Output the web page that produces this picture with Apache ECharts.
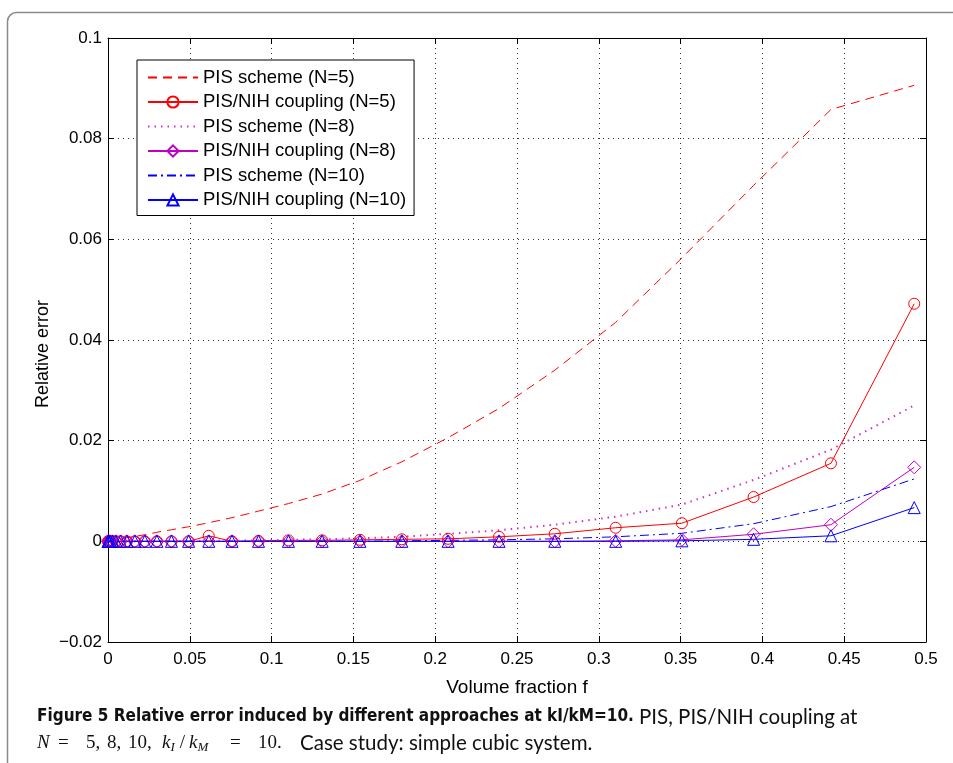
<!DOCTYPE html>
<html>
<head>
<meta charset="utf-8">
<script src="https://cdn.jsdelivr.net/npm/echarts@6/dist/echarts.min.js"></script>
<style>
html,body{margin:0;padding:0;background:#fff;}
#chart{width:953px;height:763px;}
</style>
</head>
<body>
<div id="chart"></div>
<script>
// ---- data ----
const fVals = [0.00002, 0.00018, 0.00061, 0.00144, 0.0028, 0.00485, 0.0077, 0.0115, 0.0164, 0.0225,
  0.0299, 0.0388, 0.0493, 0.0616, 0.0758, 0.0920, 0.1103, 0.1309, 0.1540, 0.1796,
  0.2079, 0.2390, 0.2731, 0.3103, 0.3508, 0.3946, 0.4419, 0.4928];
const pisN5 = [0, 0, 0, 0.0001, 0.0002, 0.0003, 0.0005, 0.0007, 0.0010, 0.0013,
  0.0018, 0.0023, 0.0029, 0.0037, 0.0047, 0.0060, 0.0075, 0.0094, 0.0121, 0.0158,
  0.0206, 0.0264, 0.0340, 0.0435, 0.0563, 0.0707, 0.0858, 0.0906];
const nihN5 = [0, 0, 0, 0, 0, 0, 0, 0, 0, 0,
  0, 0, 0, 0.0011, 0.0000, 0.0001, 0.0002, 0.0002, 0.0003, 0.0004,
  0.0005, 0.0009, 0.0015, 0.0027, 0.0036, 0.0088, 0.0155, 0.0472];
const pisN8 = [0, 0, 0, 0, 0, 0, 0, 0, 0, 0,
  0, 0, 0, 0.0001, 0.0001, 0.0002, 0.0003, 0.0004, 0.0006, 0.0009,
  0.0015, 0.0022, 0.0033, 0.0049, 0.0073, 0.0122, 0.0182, 0.0270];
const nihN8 = [0, 0, 0, 0, 0, 0, 0, 0, 0, 0,
  0, 0, 0, 0, 0, 0, 0, 0, 0, 0,
  0, 0, 0, 0.0001, 0.0003, 0.0014, 0.0033, 0.0147];
const pisN10 = [0, 0, 0, 0, 0, 0, 0, 0, 0, 0,
  0, 0, 0, 0, 0, 0, 0, 0, 0, 0.0001,
  0.0002, 0.0003, 0.0005, 0.0009, 0.0016, 0.0035, 0.0069, 0.0124];
const nihN10 = [0, 0, 0, 0, 0, 0, 0, 0, 0, 0,
  0, 0, 0, 0, 0, 0, 0, 0, 0, 0,
  0, 0, 0, 0, 0.0001, 0.0004, 0.0011, 0.0067];
const seriesNames = ['PIS scheme (N=5)', 'PIS/NIH coupling (N=5)', 'PIS scheme (N=8)',
  'PIS/NIH coupling (N=8)', 'PIS scheme (N=10)', 'PIS/NIH coupling (N=10)'];
const xTickLabels = ['0', '0.05', '0.1', '0.15', '0.2', '0.25', '0.3', '0.35', '0.4', '0.45', '0.5'];
const yTickLabels = ['\u22120.02', '0', '0.02', '0.04', '0.06', '0.08', '0.1'];
const xAxisTitle = 'Volume fraction f';
const yAxisTitle = 'Relative error';

// ---- chart ----
const FONT = '"Liberation Sans", Arial, Helvetica, sans-serif';
const CAP_B = '"Liberation Sans Narrow", "DejaVu Sans Condensed", sans-serif';
const CAP_R = 'Lato, "Liberation Sans", sans-serif';
const SERIF = '"Liberation Serif", "DejaVu Serif", serif';
const RED = '#ff0000', MAG = '#c000c0', BLUE = '#0000ff';
const pairs = arr => fVals.map((f, i) => [f, arr[i]]);

function xLabel(v) {
  const i = Math.round(v / 0.05);
  return xTickLabels[i] !== undefined ? xTickLabels[i] : '';
}
function yLabel(v) {
  const i = Math.round((v + 0.02) / 0.02);
  return yTickLabels[i] !== undefined ? yTickLabels[i] : '';
}

const tickCommon = {show: true, inside: true, length: 6, lineStyle: {color: '#000', width: 1}};
const gridLine = {show: true, lineStyle: {color: '#333', width: 1, type: [1, 4]}};

function lineSeries(name, arr, color, type, symbol, size, width) {
  const hasSym = !!symbol;
  return {
    name: name, type: 'line', data: pairs(arr),
    showSymbol: hasSym, symbol: hasSym ? symbol : 'circle', symbolSize: hasSym ? size : 1,
    lineStyle: {color: color, width: width || 1, type: type},
    itemStyle: hasSym
      ? {color: 'rgba(255,255,255,0)', borderColor: color, borderWidth: 1}
      : {color: 'rgba(255,255,255,0)', borderColor: 'rgba(255,255,255,0)', borderWidth: 0},
    emphasis: {disabled: true}, animation: false, z: 3
  };
}

function capText(x, y, text, font) {
  return {type: 'text', x: x, y: y, silent: true,
    style: {text: text, fill: '#111', font: font, verticalAlign: 'middle'}};
}

const chart = echarts.init(document.getElementById('chart'), null, {renderer: 'canvas'});
chart.setOption({
  animation: false,
  backgroundColor: '#fff',
  grid: {left: 108, right: 27, top: 38, bottom: 121, containLabel: false},
  xAxis: [{
    type: 'value', min: 0, max: 0.5, interval: 0.05, position: 'bottom',
    axisLine: {show: true, onZero: false, lineStyle: {color: '#000', width: 1}},
    axisTick: tickCommon, splitLine: gridLine,
    axisLabel: {formatter: xLabel, color: '#000', fontSize: 17, fontFamily: FONT, margin: 9},
    name: xAxisTitle, nameLocation: 'middle', nameGap: 36,
    nameTextStyle: {color: '#000', fontSize: 19, fontFamily: FONT}
  }, {
    type: 'value', min: 0, max: 0.5, interval: 0.05, position: 'top',
    axisLine: {show: true, onZero: false, lineStyle: {color: '#000', width: 1}},
    axisTick: tickCommon, splitLine: {show: false}, axisLabel: {show: false}
  }],
  yAxis: [{
    type: 'value', min: -0.02, max: 0.1, interval: 0.02, position: 'left',
    axisLine: {show: true, onZero: false, lineStyle: {color: '#000', width: 1}},
    axisTick: tickCommon, splitLine: gridLine,
    axisLabel: {formatter: yLabel, color: '#000', fontSize: 17, fontFamily: FONT, margin: 6}
  }, {
    type: 'value', min: -0.02, max: 0.1, interval: 0.02, position: 'right',
    axisLine: {show: true, onZero: false, lineStyle: {color: '#000', width: 1}},
    axisTick: tickCommon, splitLine: {show: false}, axisLabel: {show: false}
  }],
  legend: {
    orient: 'vertical', left: 137, top: 60,
    data: seriesNames,
    backgroundColor: '#fff', borderColor: '#000', borderWidth: 1, borderRadius: 0,
    padding: [8, 8, 6, 10], itemWidth: 50, itemHeight: 14, itemGap: 5.5, itemTextGap: 5,
    textStyle: {color: '#000', fontSize: 18.5, fontFamily: FONT, lineHeight: 18},
    selectedMode: false
  },
  series: [
    lineSeries(seriesNames[0], pisN5, RED, [9, 6], null),
    lineSeries(seriesNames[1], nihN5, RED, 'solid', 'circle', 11),
    lineSeries(seriesNames[2], pisN8, '#cc33cc', [1.5, 5], null, 0, 2),
    lineSeries(seriesNames[3], nihN8, MAG, 'solid', 'diamond', 13),
    lineSeries(seriesNames[4], pisN10, BLUE, [9, 4, 2, 4], null),
    lineSeries(seriesNames[5], nihN10, BLUE, 'solid', 'triangle', 12)
  ],
  graphic: [
    {type: 'rect', left: 5, top: 10, z: -10, silent: true,
      shape: {x: 0, y: 0, width: 980, height: 800, r: 9},
      style: {fill: 'none', stroke: '#8a8a8a', lineWidth: 1.5}},
    {type: 'text', x: 43, y: 354, rotation: Math.PI / 2, silent: true,
      style: {text: yAxisTitle, fill: '#000', font: '18px ' + FONT, align: 'center', verticalAlign: 'middle'}},
    // caption line 1
    capText(37, 717, 'Figure 5 Relative error induced by different approaches at kI/kM=10.', 'bold 17px ' + CAP_B),
    capText(639, 717, 'PIS, PIS/NIH coupling at', '20.5px ' + CAP_R),
    // caption line 2
    capText(37, 743, 'N', 'italic 19px ' + SERIF),
    capText(58, 743, '=', '19px ' + SERIF),
    capText(86, 743, '5,', '19px ' + SERIF),
    capText(107, 743, '8,', '19px ' + SERIF),
    capText(128, 743, '10,', '19px ' + SERIF),
    {type: 'text', x: 162, y: 743, silent: true,
      style: {text: '{i|k}{s|I}{n|/}{i|k}{s|M}', verticalAlign: 'middle',
        rich: {
          i: {fontFamily: SERIF, fontStyle: 'italic', fontSize: 19, fill: '#111'},
          s: {fontFamily: SERIF, fontStyle: 'italic', fontSize: 13, fill: '#111', padding: [10, 1, 0, 0]},
          n: {fontFamily: SERIF, fontSize: 19, fill: '#111', padding: [0, 4, 0, 4]}
        }}},
    capText(230, 743, '=', '19px ' + SERIF),
    capText(258, 743, '10.', '19px ' + SERIF),
    capText(300, 743, 'Case study: simple cubic system.', '20.5px ' + CAP_R)
  ]
});
</script>
</body>
</html>
